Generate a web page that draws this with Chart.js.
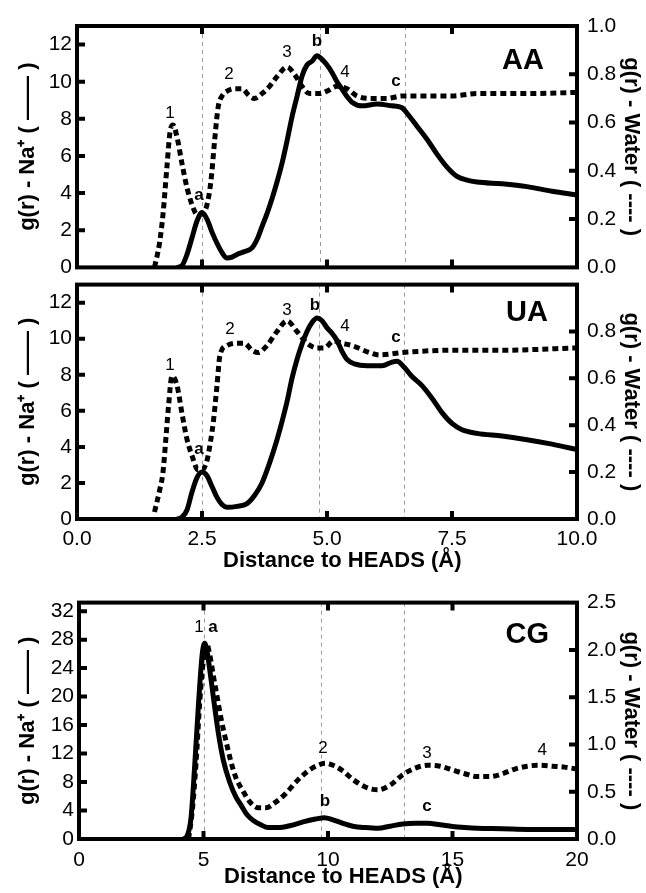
<!DOCTYPE html>
<html>
<head>
<meta charset="utf-8">
<script src="https://cdn.jsdelivr.net/npm/chart.js@4.4.1/dist/chart.umd.min.js"></script>
<style>
  body { margin: 0; background: #fff; }
  canvas.panel { position: absolute; left: 0; }
</style>
</head>
<body>
<canvas id="aa" class="panel" width="646" height="290" style="top:0px"></canvas>
<canvas id="ua" class="panel" width="646" height="318" style="top:262px"></canvas>
<canvas id="cg" class="panel" width="646" height="313" style="top:580px"></canvas>
<script>
// g(r) data, [distance (Å), g(r)]
const aaSodium = [[2.0,0],[2.1,0.1],[2.2,0.7],[2.3,1.6],[2.4,2.5],[2.5,2.95],[2.6,2.6],[2.7,1.9],[2.8,1.3],[2.9,0.8],[3.0,0.5],[3.1,0.55],[3.2,0.7],[3.35,0.85],[3.5,1.05],[3.6,1.5],[3.7,2.2],[3.8,2.9],[3.9,3.7],[4.0,4.6],[4.1,5.6],[4.2,6.8],[4.3,8.1],[4.4,9.2],[4.5,10.3],[4.6,10.9],[4.7,11.1],[4.8,11.4],[4.9,11.2],[5.0,10.9],[5.1,10.5],[5.2,10.0],[5.3,9.6],[5.4,9.2],[5.5,8.9],[5.7,8.7],[6.0,8.8],[6.3,8.7],[6.5,8.6],[6.6,8.3],[6.8,7.6],[7.0,6.9],[7.2,6.1],[7.4,5.4],[7.6,4.9],[7.8,4.7],[8.0,4.6],[8.5,4.5],[9.0,4.35],[9.5,4.1],[10,3.9]];
const aaWater = [[1.55,0],[1.65,0.1],[1.72,0.22],[1.8,0.42],[1.86,0.56],[1.92,0.59],[2.0,0.54],[2.1,0.43],[2.2,0.33],[2.3,0.26],[2.4,0.22],[2.5,0.22],[2.6,0.26],[2.68,0.36],[2.75,0.52],[2.82,0.66],[2.9,0.71],[3.0,0.73],[3.15,0.74],[3.3,0.74],[3.45,0.71],[3.55,0.70],[3.7,0.72],[3.85,0.75],[4.0,0.79],[4.2,0.83],[4.35,0.80],[4.5,0.75],[4.65,0.72],[4.85,0.72],[5.0,0.73],[5.2,0.75],[5.4,0.74],[5.6,0.71],[5.9,0.70],[6.2,0.70],[6.5,0.71],[7.0,0.71],[7.5,0.71],[8.0,0.72],[9.0,0.72],[10,0.725]];

const uaSodium = [[2.0,0],[2.1,0.1],[2.2,0.5],[2.3,1.5],[2.4,2.3],[2.5,2.6],[2.6,2.4],[2.7,1.8],[2.8,1.2],[2.9,0.8],[3.0,0.65],[3.2,0.7],[3.4,0.85],[3.55,1.3],[3.7,2.0],[3.85,3.1],[4.0,4.4],[4.1,5.4],[4.2,6.5],[4.3,7.8],[4.4,8.85],[4.5,9.7],[4.6,10.4],[4.7,10.9],[4.8,11.15],[4.9,11.0],[5.0,10.6],[5.1,10.3],[5.2,9.9],[5.3,9.3],[5.4,8.85],[5.55,8.6],[5.8,8.5],[6.1,8.5],[6.3,8.7],[6.4,8.75],[6.55,8.4],[6.7,7.9],[6.9,7.4],[7.1,6.7],[7.3,5.9],[7.5,5.3],[7.7,4.95],[8.0,4.75],[8.5,4.6],[9.0,4.4],[9.5,4.15],[10,3.85]];
const uaWater = [[1.55,0.03],[1.65,0.12],[1.72,0.2],[1.78,0.35],[1.83,0.48],[1.9,0.61],[2.0,0.57],[2.1,0.45],[2.2,0.34],[2.3,0.27],[2.42,0.21],[2.5,0.21],[2.6,0.25],[2.67,0.33],[2.73,0.42],[2.8,0.57],[2.86,0.70],[3.0,0.74],[3.2,0.75],[3.35,0.75],[3.5,0.72],[3.62,0.71],[3.8,0.74],[4.0,0.8],[4.2,0.845],[4.4,0.80],[4.6,0.75],[4.8,0.73],[4.95,0.73],[5.13,0.76],[5.3,0.75],[5.5,0.74],[5.85,0.71],[6.05,0.70],[6.5,0.71],[7.5,0.72],[8.5,0.72],[10,0.73]];

const cgSodium = [[4.2,0],[4.35,0.5],[4.5,3],[4.65,10.5],[4.8,19],[4.95,26],[5.05,27.5],[5.15,26.2],[5.3,22.5],[5.45,18.5],[5.6,14.8],[5.8,11.0],[6.05,8.0],[6.3,5.9],[6.5,4.8],[6.75,3.4],[7.0,2.6],[7.3,2.0],[7.6,1.6],[8.0,1.6],[8.5,1.9],[9.0,2.4],[9.5,2.8],[9.85,3.0],[10.2,2.7],[10.6,2.2],[11.0,1.8],[11.5,1.6],[12.0,1.5],[12.5,1.8],[13.0,2.1],[13.5,2.2],[14.0,2.2],[14.5,2.0],[15.0,1.75],[15.5,1.6],[16.0,1.5],[17.0,1.45],[18.0,1.35],[19.0,1.35],[20,1.35]];
const cgWater = [[4.4,0],[4.55,0.3],[4.7,0.8],[4.85,1.45],[5.0,1.9],[5.12,2.07],[5.25,1.95],[5.4,1.72],[5.55,1.5],[5.7,1.28],[5.9,1.04],[6.1,0.82],[6.3,0.65],[6.6,0.5],[6.9,0.38],[7.2,0.33],[7.5,0.33],[7.9,0.39],[8.3,0.48],[8.7,0.6],[9.2,0.72],[9.6,0.78],[9.9,0.8],[10.2,0.78],[10.6,0.72],[11.0,0.63],[11.5,0.55],[12.0,0.52],[12.5,0.57],[13.0,0.68],[13.5,0.75],[14.0,0.78],[14.5,0.77],[15.0,0.73],[15.5,0.69],[16.0,0.66],[16.5,0.66],[17.0,0.69],[17.5,0.74],[18.0,0.77],[18.5,0.78],[19.0,0.77],[19.5,0.76],[20,0.74]];

// dotted guide lines through the peaks a, b, c
const aaGuides = [2.5, 4.85, 6.55];
const uaGuides = [2.5, 4.84, 6.54];
const cgGuides = [5.0, 9.7, 13.05];

// tick values
const atomXTicks = [0, 2.5, 5, 7.5, 10];
const cgXTicks = [0, 5, 10, 15, 20];
const atomNaTicks = [0, 2, 4, 6, 8, 10, 12];
const cgNaTicks = [0, 4, 8, 12, 16, 20, 24, 28, 32];
const aaWaterTicks = [0, 0.2, 0.4, 0.6, 0.8, 1.0];
const uaWaterTicks = [0, 0.2, 0.4, 0.6, 0.8];
const cgWaterTicks = [0, 0.5, 1.0, 1.5, 2.0, 2.5];

// peak labels [text, x, g(r) Na+ axis]
const aaNotes = [['1',1.86,8.3],['a',2.44,3.9],['2',3.04,10.4],['3',4.2,11.6],['b',4.8,12.15],['4',5.36,10.5],['c',6.38,10.0]];
const uaNotes = [['1',1.86,8.5],['a',2.44,3.85],['2',3.06,10.5],['3',4.2,11.6],['b',4.76,11.85],['4',5.36,10.7],['c',6.38,10.1]];
const cgNotes = [['1',4.82,29.7],['a',5.38,29.7],['2',9.8,12.8],['3',13.98,12.1],['4',18.6,12.5],['b',9.88,5.3],['c',13.98,4.6]];

const FONT = "'Liberation Sans', Arial, sans-serif";

const toPts = arr => arr.map(p => ({x: p[0], y: p[1]}));

// gray dashed vertical lines
const guides = {
  id: 'guides',
  beforeDatasetsDraw(chart, args, opts) {
    const {ctx, chartArea: a, scales} = chart;
    ctx.save();
    ctx.strokeStyle = '#9a9a9a';
    ctx.lineWidth = 1;
    ctx.setLineDash([4, 4]);
    opts.xs.forEach(v => {
      const px = Math.round(scales.x.getPixelForValue(v)) + 0.5;
      ctx.beginPath();
      ctx.moveTo(px, a.top);
      ctx.lineTo(px, a.bottom);
      ctx.stroke();
    });
    ctx.restore();
  }
};

// thick box with inward ticks
const frame = {
  id: 'frame',
  afterDatasetsDraw(chart) {
    const {ctx, chartArea: a, scales} = chart;
    const len = 8;
    ctx.save();
    ctx.strokeStyle = '#000';
    ctx.lineWidth = 4;
    ctx.strokeRect(a.left, a.top, a.right - a.left, a.bottom - a.top);
    ctx.beginPath();
    scales.x.ticks.forEach(t => {
      const px = scales.x.getPixelForValue(t.value);
      if (px < a.left + 3 || px > a.right - 3) return;
      ctx.moveTo(px, a.bottom); ctx.lineTo(px, a.bottom - len);
      ctx.moveTo(px, a.top); ctx.lineTo(px, a.top + len);
    });
    scales.yL.ticks.forEach(t => {
      const py = scales.yL.getPixelForValue(t.value);
      if (py > a.bottom - 3 || py < a.top + 3) return;
      ctx.moveTo(a.left, py); ctx.lineTo(a.left + len, py);
    });
    scales.yR.ticks.forEach(t => {
      const py = scales.yR.getPixelForValue(t.value);
      if (py > a.bottom - 3 || py < a.top + 3) return;
      ctx.moveTo(a.right, py); ctx.lineTo(a.right - len, py);
    });
    ctx.stroke();
    ctx.restore();
  }
};

// peak labels and panel name
const notes = {
  id: 'notes',
  afterDatasetsDraw(chart, args, opts) {
    const {ctx, scales} = chart;
    ctx.save();
    ctx.fillStyle = '#000';
    ctx.textAlign = 'center';
    ctx.textBaseline = 'middle';
    opts.items.forEach(n => {
      const isDigit = /[0-9]/.test(n[0]);
      ctx.font = (isDigit ? '' : 'bold ') + '17px ' + FONT;
      ctx.fillText(n[0], scales.x.getPixelForValue(n[1]), scales.yL.getPixelForValue(n[2]));
    });
    ctx.font = 'bold 29px ' + FONT;
    ctx.fillText(opts.name[0], scales.x.getPixelForValue(opts.name[1]), scales.yL.getPixelForValue(opts.name[2]));
    ctx.restore();
  }
};

function makePanel(id, p) {
  const tickFont = {family: FONT, size: 21};
  const titleFont = {family: FONT, size: 22, weight: 'bold'};
  const noGrid = {display: false, drawTicks: false, tickLength: 0};
  new Chart(document.getElementById(id), {
    type: 'line',
    data: {
      datasets: [
        {data: toPts(p.sodium), yAxisID: 'yL', borderColor: '#000', borderWidth: 5,
         pointRadius: 0, cubicInterpolationMode: 'monotone'},
        {data: toPts(p.water), yAxisID: 'yR', borderColor: '#000', borderWidth: 5,
         borderDash: [6, 4], pointRadius: 0, cubicInterpolationMode: 'monotone'}
      ]
    },
    options: {
      responsive: false,
      animation: false,
      devicePixelRatio: 1,
      layout: {autoPadding: false, padding: {top: p.top}},
      plugins: {
        legend: {display: false},
        tooltip: {enabled: false},
        guides: {xs: p.guides},
        notes: {items: p.notes, name: p.name}
      },
      scales: {
        x: {
          type: 'linear', min: 0, max: p.xMax,
          grid: noGrid, border: {display: false},
          afterBuildTicks: s => { s.ticks = p.xTicks.map(v => ({value: v})); },
          afterFit: s => { s.height = p.xHeight; },
          ticks: {display: p.showX, color: '#000', font: tickFont, padding: p.xTickPad, maxRotation: 0,
                  callback: v => p.xFmt(v)},
          title: {display: p.showX, text: '     Distance to HEADS (Å)', color: '#000',
                  font: titleFont, padding: {top: 0, bottom: p.xTitlePad}}
        },
        yL: {
          type: 'linear', position: 'left', min: 0, max: p.naMax,
          grid: noGrid, border: {display: false},
          afterBuildTicks: s => { s.ticks = p.naTicks.map(v => ({value: v})); },
          afterFit: s => { s.width = p.left; },
          ticks: {color: '#000', font: tickFont, padding: 5, callback: v => String(v)},
          title: {display: true, text: 'g(r) - Na⁺ ( —— )', color: '#000', font: titleFont,
                  padding: {top: 15, bottom: 0}}
        },
        yR: {
          type: 'linear', position: 'right', min: 0, max: p.waterMax,
          grid: noGrid, border: {display: false},
          afterBuildTicks: s => { s.ticks = p.waterTicks.map(v => ({value: v})); },
          afterFit: s => { s.width = 646 - 577; },
          ticks: {color: '#000', font: tickFont, padding: 10, callback: v => v.toFixed(1)},
          title: {display: true, text: 'g(r) - Water ( ---- )', color: '#000', font: titleFont,
                  padding: {top: 2, bottom: 0}}
        }
      }
    },
    plugins: [guides, frame, notes]
  });
}

makePanel('aa', {
  sodium: aaSodium, water: aaWater, guides: aaGuides, notes: aaNotes, name: ['AA', 8.92, 11.1],
  top: 26, left: 77, xHeight: 19, xMax: 10, xTicks: atomXTicks, showX: false, xTickPad: 8, xTitlePad: 0,
  xFmt: v => v.toFixed(1), naMax: 13, naTicks: atomNaTicks, waterMax: 1.0, waterTicks: aaWaterTicks
});

makePanel('ua', {
  sodium: uaSodium, water: uaWater, guides: uaGuides, notes: uaNotes, name: ['UA', 9.0, 11.4],
  top: 12, left: 77, xHeight: 61, xMax: 10, xTicks: atomXTicks, showX: true, xTickPad: 8, xTitlePad: 6,
  xFmt: v => v.toFixed(1), naMax: 13, naTicks: atomNaTicks, waterMax: 1.0, waterTicks: uaWaterTicks
});

makePanel('cg', {
  sodium: cgSodium, water: cgWater, guides: cgGuides, notes: cgNotes, name: ['CG', 18.0, 28.7],
  top: 15, left: 79, xHeight: 54, xMax: 20, xTicks: cgXTicks, showX: true, xTickPad: 9, xTitlePad: 3,
  xFmt: v => String(v), naMax: 33.2, naTicks: cgNaTicks, waterMax: 2.5, waterTicks: cgWaterTicks
});
</script>
</body>
</html>
